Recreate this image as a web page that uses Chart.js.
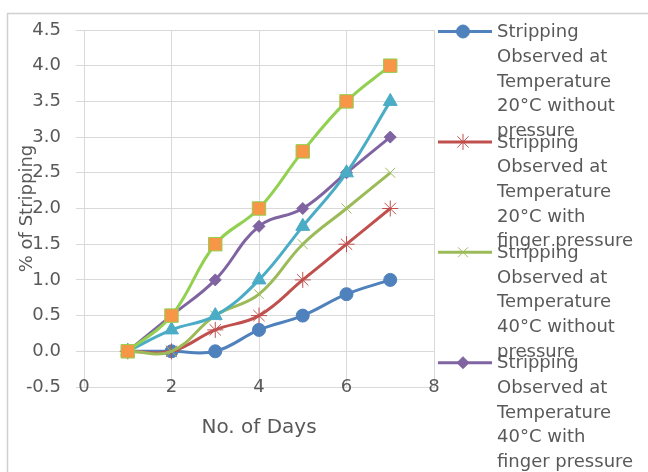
<!DOCTYPE html>
<html>
<head>
<meta charset="utf-8">
<script src="https://cdn.jsdelivr.net/npm/chart.js@4/dist/chart.umd.min.js"></script>
<style>
  html, body { margin: 0; padding: 0; background: #fff; }
  #wrap { width: 648px; height: 472px; position: relative; }
</style>
</head>
<body>
<div id="wrap"><canvas id="chart"></canvas></div>
<script>
// days on the x axis
var days = [1, 2, 3, 4, 5, 6, 7];

// % of stripping for each test condition
var strip20Plain = [0, 0, 0, 0.3, 0.5, 0.8, 1.0];
var strip20Finger = [0, 0, 0.3, 0.5, 1.0, 1.5, 2.0];
var strip40Plain = [0, 0, 0.5, 0.8, 1.5, 2.0, 2.5];
var strip40Finger = [0, 0.5, 1.0, 1.75, 2.0, 2.5, 3.0];
var strip60Plain = [0, 0.3, 0.5, 1.0, 1.75, 2.5, 3.5];
var strip60Finger = [0, 0.5, 1.5, 2.0, 2.8, 3.5, 4.0];

// legend text, one entry per line
var legendLines = [
    ['Stripping', 'Observed at', 'Temperature', '20°C without', 'pressure'],
    ['Stripping', 'Observed at', 'Temperature', '20°C with', 'finger pressure'],
    ['Stripping', 'Observed at', 'Temperature', '40°C without', 'pressure'],
    ['Stripping', 'Observed at', 'Temperature', '40°C with', 'finger pressure'],
    ['Stripping', 'Observed at', 'Temperature', '60°C without', 'pressure'],
    ['Stripping', 'Observed at', 'Temperature', '60°C with', 'finger pressure']
];

var yTicks = [-0.5, 0, 0.5, 1, 1.5, 2, 2.5, 3, 3.5, 4, 4.5];
var xTicks = [0, 2, 4, 6, 8];

var FONT = 'DejaVu Sans';
var TEXT = '#595959';
var GRID = '#d9d9d9';

function toPoints(values) {
    var list = [];
    for (var i = 0; i < days.length; i++) {
        list.push({x: days[i], y: values[i]});
    }
    return list;
}

function createDataset(index, values, line, fill, style, radius) {
    return {
        label: legendLines[index].join(' '),
        data: toPoints(values),
        borderColor: line,
        backgroundColor: fill,
        borderWidth: 3,
        tension: 0.4,
        pointStyle: style,
        pointRadius: radius,
        pointHoverRadius: radius,
        pointBackgroundColor: fill,
        pointBorderColor: style === 'rect' ? line : fill,
        pointBorderWidth: 1,
        order: 6 - index,
        clip: false
    };
}

var datasets = [];
datasets.push(createDataset(0, strip20Plain, '#4f81bd', '#4f81bd', 'circle', 6.5));
datasets.push(createDataset(1, strip20Finger, '#c0504d', '#c0504d', 'star', 8));
datasets.push(createDataset(2, strip40Plain, '#9bbb59', '#9bbb59', 'crossRot', 7));
datasets.push(createDataset(3, strip40Finger, '#8064a2', '#8064a2', 'rectRot', 6));
datasets.push(createDataset(4, strip60Plain, '#4bacc6', '#4bacc6', 'triangle', 8));
datasets.push(createDataset(5, strip60Finger, '#92d050', '#f79646', 'rect', 9.5));

// white background and the thin frame around the chart
var framePlugin = {
    id: 'frame',
    beforeDraw: function(chart) {
        var ctx = chart.ctx;
        ctx.save();
        ctx.fillStyle = '#fff';
        ctx.fillRect(0, 0, chart.width, chart.height);
        ctx.strokeStyle = '#d0d0d0';
        ctx.lineWidth = 1.5;
        ctx.strokeRect(7.5, 13.5, chart.width + 20, chart.height + 20);
        ctx.restore();
    }
};

// x tick labels sit centred on the bottom grid line, so they are drawn here
var xLabelPlugin = {
    id: 'xLabels',
    afterDraw: function(chart) {
        var ctx = chart.ctx;
        var scale = chart.scales.x;
        ctx.save();
        ctx.fillStyle = TEXT;
        ctx.font = '18px "' + FONT + '"';
        ctx.textAlign = 'center';
        ctx.textBaseline = 'middle';
        for (var i = 0; i < xTicks.length; i++) {
            ctx.fillText(String(xTicks[i]), scale.getPixelForValue(xTicks[i]), scale.top);
        }
        ctx.restore();
    }
};

// legend on the right, with wrapped text per entry; entries past the bottom edge are left out
var sideLegendPlugin = {
    id: 'sideLegend',
    afterDraw: function(chart) {
        var ctx = chart.ctx;
        var sets = chart.data.datasets;
        ctx.save();
        for (var i = 0; i < sets.length; i++) {
            var ds = sets[i];
            var y = 31.5 + i * 110.4;
            if (y > chart.height) {
                break;
            }
            ctx.strokeStyle = ds.borderColor;
            ctx.lineWidth = 3;
            ctx.beginPath();
            ctx.moveTo(438, y);
            ctx.lineTo(492, y);
            ctx.stroke();

            ctx.fillStyle = ds.pointBackgroundColor;
            ctx.strokeStyle = ds.pointBorderColor;
            ctx.lineWidth = ds.pointBorderWidth;
            Chart.helpers.drawPoint(ctx, {
                pointStyle: ds.pointStyle,
                radius: ds.pointRadius,
                rotation: 0,
                borderWidth: ds.pointBorderWidth
            }, 463, y);

            ctx.fillStyle = TEXT;
            ctx.font = '18px "' + FONT + '"';
            ctx.textAlign = 'left';
            ctx.textBaseline = 'middle';
            var lines = legendLines[i];
            for (var k = 0; k < lines.length; k++) {
                ctx.fillText(lines[k], 497, y + 1 + k * 24.7);
            }
        }
        ctx.restore();
    }
};

new Chart(document.getElementById('chart'), {
    type: 'line',
    data: {datasets: datasets},
    plugins: [framePlugin, xLabelPlugin, sideLegendPlugin],
    options: {
        responsive: true,
        maintainAspectRatio: false,
        animation: false,
        layout: {padding: {top: 30, right: 214, left: 0, bottom: 0}},
        plugins: {
            legend: {display: false},
            tooltip: {enabled: false}
        },
        scales: {
            x: {
                type: 'linear',
                min: 0,
                max: 8,
                afterBuildTicks: function(scale) {
                    scale.ticks = xTicks.map(function(v) { return {value: v}; });
                },
                afterFit: function(scale) { scale.height = 85; },
                grid: {color: GRID, lineWidth: 1, drawTicks: false},
                border: {color: GRID},
                ticks: {display: false},
                title: {
                    display: true,
                    text: 'No. of Days',
                    color: TEXT,
                    font: {family: FONT, size: 20},
                    padding: {top: 0, bottom: 32}
                }
            },
            y: {
                min: -0.5,
                max: 4.5,
                afterBuildTicks: function(scale) {
                    scale.ticks = yTicks.map(function(v) { return {value: v}; });
                },
                afterFit: function(scale) { scale.width = 84; },
                grid: {color: GRID, lineWidth: 1, drawTicks: true, tickLength: 8, tickColor: GRID},
                border: {color: GRID},
                ticks: {
                    color: TEXT,
                    font: {family: FONT, size: 18},
                    padding: 15,
                    callback: function(v) { return v.toFixed(1); }
                },
                title: {
                    display: true,
                    text: '% of Stripping',
                    color: TEXT,
                    font: {family: FONT, size: 18},
                    padding: {top: 17, bottom: 0}
                }
            }
        }
    }
});
</script>
</body>
</html>
